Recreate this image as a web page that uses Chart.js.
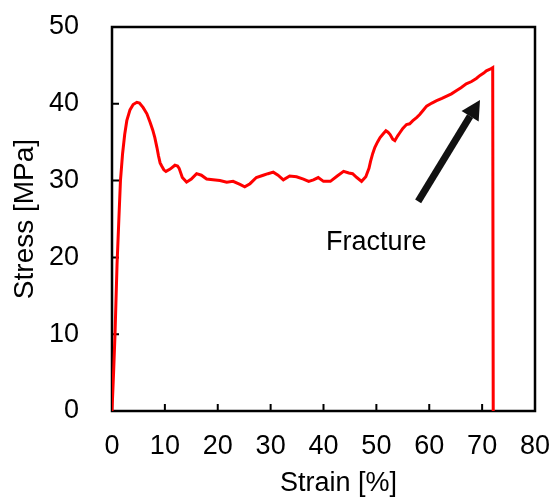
<!DOCTYPE html>
<html>
<head>
<meta charset="utf-8">
<script src="https://cdn.jsdelivr.net/npm/chart.js@4.4.0/dist/chart.umd.min.js"></script>
<style>
	html, body { margin: 0; padding: 0; background: #fff; }
	#wrap { width: 553px; height: 497px; }
</style>
</head>
<body>
<div id="wrap"><canvas id="stressChart" width="553" height="497"></canvas></div>
<script>
//Strain [%] og stress [MPa] lest av kurven
var strain = [0, 0.3, 0.57, 0.95, 1.3, 1.6, 2.0, 2.4, 2.8, 3.4, 4.0, 4.7, 5.2, 5.9, 6.6, 7.2, 7.7, 8.1, 8.5, 8.8,
	9.1, 9.4, 9.8, 10.2, 11.0, 11.9, 12.4, 12.7, 13.3, 14.1, 15.0, 16.0, 16.9, 17.9, 19.1, 20.4, 21.7, 22.9, 24.2, 25.1,
	26.1, 27.3, 28.6, 29.5, 30.5, 31.4, 32.4, 33.6, 34.9, 36.2, 37.2, 38.1, 39.0, 40.0, 41.3, 42.6, 43.8, 44.8, 45.5, 46.3,
	47.2, 48.0, 48.6, 48.9, 49.3, 49.7, 50.2, 50.7, 51.3, 51.8, 52.2, 52.6, 53.1, 53.5, 54.0, 54.4, 55.0, 55.7, 56.3, 56.9,
	57.6, 58.2, 58.9, 59.5, 60.5, 61.4, 62.4, 63.3, 64.2, 65.1, 66.0, 67.0, 68.0, 68.9, 69.6, 70.3, 70.8, 71.5, 72.0, 72.1];
var stress = [0, 5, 10, 19, 25, 30, 33.5, 36, 37.8, 39.2, 39.9, 40.2, 40.1, 39.5, 38.7, 37.6, 36.6, 35.6, 34.3, 33.2,
	32.3, 31.9, 31.4, 31.2, 31.5, 32.0, 31.9, 31.6, 30.4, 29.8, 30.2, 30.9, 30.7, 30.2, 30.1, 30.0, 29.8, 29.9, 29.5, 29.2,
	29.6, 30.4, 30.7, 30.9, 31.1, 30.7, 30.1, 30.6, 30.5, 30.2, 29.9, 30.1, 30.4, 29.9, 29.9, 30.6, 31.2, 31.0, 30.9, 30.4,
	29.9, 30.5, 31.6, 32.5, 33.5, 34.3, 35.0, 35.6, 36.1, 36.5, 36.3, 36.0, 35.4, 35.2, 35.8, 36.2, 36.8, 37.3, 37.4, 37.8,
	38.2, 38.6, 39.2, 39.7, 40.1, 40.4, 40.7, 41.0, 41.3, 41.7, 42.1, 42.6, 42.9, 43.3, 43.7, 44.0, 44.3, 44.5, 44.7, 0];

var xTicks = [0, 10, 20, 30, 40, 50, 60, 70, 80];
var yTicks = [0, 10, 20, 30, 40, 50];

//Pil og tekst for brudd (i dataenheter)
var arrowTail = [57.9, 27.3];
var arrowTip = [69.6, 40.5];
var fractureLabel = [50.0, 21.0];

var fontFamily = "'Liberation Sans', Arial, sans-serif";

var points = strain.map(function (s, i) { return { x: s, y: stress[i] }; });

//Ramme, innovervendte ticks, pil og tekst
var framePlugin = {
	id: "frame",
	beforeDatasetsDraw: function (chart) {
		var ctx = chart.ctx;
		var a = chart.chartArea;
		var xs = chart.scales.x;
		var ys = chart.scales.y;
		ctx.save();
		ctx.strokeStyle = "#000";
		ctx.lineWidth = 2.5;
		ctx.strokeRect(a.left, a.top, a.right - a.left, a.bottom - a.top);
		ctx.lineWidth = 2;
		ctx.beginPath();
		xTicks.forEach(function (v) {
			var px = xs.getPixelForValue(v);
			ctx.moveTo(px, a.bottom);
			ctx.lineTo(px, a.bottom - 7);
		});
		yTicks.forEach(function (v) {
			var py = ys.getPixelForValue(v);
			ctx.moveTo(a.left, py);
			ctx.lineTo(a.left + 7, py);
		});
		ctx.stroke();
		ctx.restore();
	},
	afterDraw: function (chart) {
		var ctx = chart.ctx;
		var a = chart.chartArea;
		var xs = chart.scales.x;
		var ys = chart.scales.y;
		var x0 = xs.getPixelForValue(arrowTail[0]), y0 = ys.getPixelForValue(arrowTail[1]);
		var x1 = xs.getPixelForValue(arrowTip[0]), y1 = ys.getPixelForValue(arrowTip[1]);
		var ang = Math.atan2(y1 - y0, x1 - x0);
		var headLen = 19, headW = 10;
		var bx = x1 - headLen * Math.cos(ang), by = y1 - headLen * Math.sin(ang);
		ctx.save();
		ctx.strokeStyle = "#111";
		ctx.fillStyle = "#111";
		ctx.lineWidth = 7;
		ctx.beginPath();
		ctx.moveTo(x0, y0);
		ctx.lineTo(bx, by);
		ctx.stroke();
		ctx.beginPath();
		ctx.moveTo(x1, y1);
		ctx.lineTo(bx + headW * Math.sin(ang), by - headW * Math.cos(ang));
		ctx.lineTo(bx - headW * Math.sin(ang), by + headW * Math.cos(ang));
		ctx.closePath();
		ctx.fill();

		ctx.fillStyle = "#000";
		ctx.font = "27px " + fontFamily;
		ctx.textAlign = "center";
		ctx.textBaseline = "alphabetic";
		ctx.fillText("Fracture", xs.getPixelForValue(fractureLabel[0]), ys.getPixelForValue(fractureLabel[1]));
		//x-aksetittel
		ctx.font = "27px " + fontFamily;
		ctx.fillText("Strain [%]", (a.left + a.right) / 2 + 15, 491);
		ctx.restore();
	}
};

var ctx1 = document.getElementById("stressChart");

var chart1 = new Chart(ctx1, {
	type: "scatter",
	data: {
		datasets: [
			{
				data: points,
				showLine: true,
				borderColor: "#ff0000",
				borderWidth: 3,
				pointRadius: 0,
				tension: 0
			}
		]
	},
	options: {
		responsive: false,
		animation: false,
		devicePixelRatio: 1,
		layout: { padding: { top: 27, right: 18, left: 0, bottom: 0 } },
		plugins: {
			legend: { display: false },
			tooltip: { enabled: false }
		},
		scales: {
			x: {
				type: "linear",
				min: 0,
				max: 80,
				afterBuildTicks: function (scale) {
					scale.ticks = xTicks.map(function (v) { return { value: v }; });
				},
				afterFit: function (scale) {
					scale.height = 86;
					scale.paddingLeft = 0;
					scale.paddingRight = 0;
				},
				grid: { display: false, drawTicks: false },
				border: { display: false },
				ticks: {
					padding: 19,
					color: "#000",
					font: { family: fontFamily, size: 27 }
				}
			},
			y: {
				type: "linear",
				min: 0,
				max: 50,
				afterBuildTicks: function (scale) {
					scale.ticks = yTicks.map(function (v) { return { value: v }; });
				},
				afterFit: function (scale) {
					scale.width = 112;
					scale.paddingTop = 0;
					scale.paddingBottom = 0;
				},
				grid: { display: false, drawTicks: false },
				border: { display: false },
				ticks: {
					padding: 33,
					color: "#000",
					font: { family: fontFamily, size: 27 }
				},
				title: {
					display: true,
					text: "Stress [MPa]",
					color: "#000",
					padding: { top: 8, bottom: 0 },
					font: { family: fontFamily, size: 28 }
				}
			}
		}
	},
	plugins: [framePlugin]
});
</script>
</body>
</html>
